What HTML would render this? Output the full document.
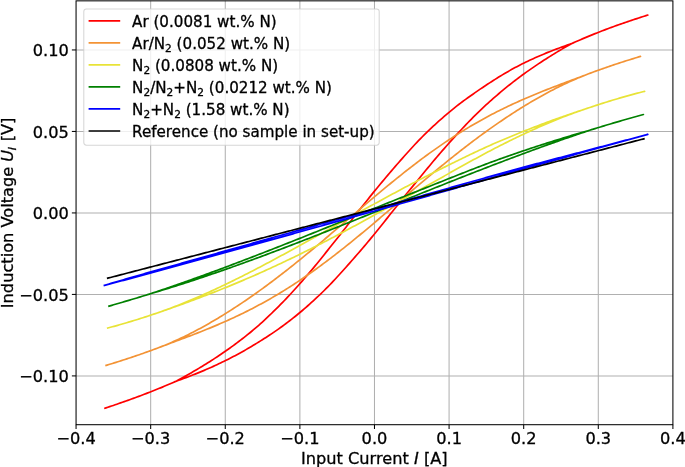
<!DOCTYPE html>
<html><head><meta charset="utf-8"><title>Induction Voltage vs Input Current</title>
<style>html,body{margin:0;padding:0;background:#fff}text{stroke:#000;stroke-width:0.3px}body{width:685px;height:467px;overflow:hidden}</style>
</head><body>
<svg width="685" height="467" viewBox="0 0 685 467" style="display:block;font-family:'DejaVu Sans', 'Liberation Sans', sans-serif;font-size:16.2px" fill="#000">
<rect width="685" height="467" fill="#fff"/>
<line x1="150.67" x2="150.67" y1="0.85" y2="424.7" stroke="#b0b0b0" stroke-width="1.04"/>
<line x1="225.27" x2="225.27" y1="0.85" y2="424.7" stroke="#b0b0b0" stroke-width="1.04"/>
<line x1="299.88" x2="299.88" y1="0.85" y2="424.7" stroke="#b0b0b0" stroke-width="1.04"/>
<line x1="374.48" x2="374.48" y1="0.85" y2="424.7" stroke="#b0b0b0" stroke-width="1.04"/>
<line x1="449.08" x2="449.08" y1="0.85" y2="424.7" stroke="#b0b0b0" stroke-width="1.04"/>
<line x1="523.69" x2="523.69" y1="0.85" y2="424.7" stroke="#b0b0b0" stroke-width="1.04"/>
<line x1="598.29" x2="598.29" y1="0.85" y2="424.7" stroke="#b0b0b0" stroke-width="1.04"/>
<line x1="76.06" x2="672.9" y1="375.91" y2="375.91" stroke="#b0b0b0" stroke-width="1.04"/>
<line x1="76.06" x2="672.9" y1="294.42" y2="294.42" stroke="#b0b0b0" stroke-width="1.04"/>
<line x1="76.06" x2="672.9" y1="212.93" y2="212.93" stroke="#b0b0b0" stroke-width="1.04"/>
<line x1="76.06" x2="672.9" y1="131.44" y2="131.44" stroke="#b0b0b0" stroke-width="1.04"/>
<line x1="76.06" x2="672.9" y1="49.95" y2="49.95" stroke="#b0b0b0" stroke-width="1.04"/>
<g fill="none" stroke-width="1.7" stroke-linecap="butt" stroke-linejoin="round">
<path d="M104.20 408.49 L106.02 407.88 L107.84 407.27 L109.65 406.66 L111.47 406.05 L113.29 405.43 L115.11 404.81 L116.93 404.18 L118.74 403.55 L120.56 402.92 L122.38 402.28 L124.20 401.64 L126.02 401.00 L127.83 400.35 L129.65 399.70 L131.47 399.04 L133.29 398.38 L135.11 397.71 L136.93 397.04 L138.74 396.36 L140.56 395.68 L142.38 395.00 L144.20 394.31 L146.02 393.61 L147.83 392.91 L149.65 392.20 L151.47 391.49 L153.29 390.77 L155.11 390.05 L156.92 389.32 L158.74 388.58 L160.56 387.84 L162.38 387.09 L164.20 386.33 L166.01 385.57 L167.83 384.80 L169.65 384.02 L171.47 383.24 L173.29 382.45 L175.10 381.65 L176.92 380.76 L178.74 379.78 L180.56 378.79 L182.38 377.79 L184.19 376.78 L186.01 375.77 L187.83 374.74 L189.65 373.71 L191.47 372.66 L193.28 371.61 L195.10 370.55 L196.92 369.47 L198.74 368.39 L200.56 367.30 L202.38 366.19 L204.19 365.08 L206.01 363.96 L207.83 362.82 L209.65 361.67 L211.47 360.52 L213.28 359.35 L215.10 358.16 L216.92 356.97 L218.74 355.76 L220.56 354.53 L222.37 353.29 L224.19 352.04 L226.01 350.77 L227.83 349.50 L229.65 348.20 L231.46 346.90 L233.28 345.58 L235.10 344.25 L236.92 342.91 L238.74 341.54 L240.55 340.16 L242.37 338.77 L244.19 337.35 L246.01 335.92 L247.83 334.46 L249.64 332.99 L251.46 331.49 L253.28 329.97 L255.10 328.43 L256.92 326.86 L258.74 325.27 L260.55 323.66 L262.37 322.02 L264.19 320.36 L266.01 318.67 L267.83 316.96 L269.64 315.24 L271.46 313.49 L273.28 311.72 L275.10 309.93 L276.92 308.12 L278.73 306.30 L280.55 304.46 L282.37 302.60 L284.19 300.72 L286.01 298.83 L287.82 296.92 L289.64 294.98 L291.46 293.02 L293.28 291.04 L295.10 289.04 L296.91 287.02 L298.73 284.98 L300.55 282.93 L302.37 280.85 L304.19 278.76 L306.00 276.66 L307.82 274.55 L309.64 272.42 L311.46 270.27 L313.28 268.10 L315.09 265.91 L316.91 263.69 L318.73 261.46 L320.55 259.21 L322.37 256.95 L324.19 254.67 L326.00 252.39 L327.82 250.11 L329.64 247.83 L331.46 245.55 L333.28 243.27 L335.09 241.01 L336.91 238.74 L338.73 236.45 L340.55 234.14 L342.37 231.83 L344.18 229.51 L346.00 227.17 L347.82 224.84 L349.64 222.50 L351.46 220.17 L353.27 217.84 L355.09 215.51 L356.91 213.20 L358.73 210.89 L360.55 208.58 L362.36 206.28 L364.18 203.99 L366.00 201.70 L367.82 199.42 L369.64 197.15 L371.45 194.89 L373.27 192.64 L375.09 190.41 L376.91 188.19 L378.73 185.98 L380.55 183.79 L382.36 181.60 L384.18 179.43 L386.00 177.26 L387.82 175.11 L389.64 172.97 L391.45 170.84 L393.27 168.73 L395.09 166.62 L396.91 164.53 L398.73 162.45 L400.54 160.38 L402.36 158.32 L404.18 156.28 L406.00 154.24 L407.82 152.22 L409.63 150.21 L411.45 148.20 L413.27 146.22 L415.09 144.27 L416.91 142.34 L418.72 140.45 L420.54 138.58 L422.36 136.73 L424.18 134.92 L426.00 133.13 L427.81 131.36 L429.63 129.62 L431.45 127.90 L433.27 126.20 L435.09 124.52 L436.91 122.87 L438.72 121.23 L440.54 119.62 L442.36 118.02 L444.18 116.44 L446.00 114.87 L447.81 113.32 L449.63 111.79 L451.45 110.28 L453.27 108.79 L455.09 107.34 L456.90 105.91 L458.72 104.50 L460.54 103.12 L462.36 101.76 L464.18 100.41 L465.99 99.09 L467.81 97.78 L469.63 96.48 L471.45 95.20 L473.27 93.93 L475.08 92.67 L476.90 91.41 L478.72 90.16 L480.54 88.92 L482.36 87.69 L484.17 86.47 L485.99 85.25 L487.81 84.05 L489.63 82.86 L491.45 81.68 L493.26 80.51 L495.08 79.36 L496.90 78.22 L498.72 77.09 L500.54 75.98 L502.36 74.88 L504.17 73.79 L505.99 72.72 L507.81 71.67 L509.63 70.63 L511.45 69.61 L513.26 68.60 L515.08 67.61 L516.90 66.64 L518.72 65.69 L520.54 64.76 L522.35 63.84 L524.17 62.94 L525.99 62.06 L527.81 61.19 L529.63 60.33 L531.44 59.49 L533.26 58.66 L535.08 57.84 L536.90 57.03 L538.72 56.23 L540.53 55.44 L542.35 54.67 L544.17 53.91 L545.99 53.16 L547.81 52.41 L549.62 51.68 L551.44 50.96 L553.26 50.25 L555.08 49.55 L556.90 48.86 L558.72 48.18 L560.53 47.51 L562.35 46.85 L564.17 46.20 L565.99 45.55 L567.81 44.91 L569.62 44.29 L571.44 43.67 L573.26 42.85 L575.08 42.04 L576.90 41.24 L578.71 40.45 L580.53 39.67 L582.35 38.89 L584.17 38.12 L585.99 37.36 L587.80 36.61 L589.62 35.86 L591.44 35.12 L593.26 34.38 L595.08 33.65 L596.89 32.93 L598.71 32.21 L600.53 31.50 L602.35 30.80 L604.17 30.11 L605.98 29.42 L607.80 28.74 L609.62 28.06 L611.44 27.39 L613.26 26.73 L615.07 26.07 L616.89 25.42 L618.71 24.77 L620.53 24.13 L622.35 23.50 L624.17 22.87 L625.98 22.24 L627.80 21.62 L629.62 21.01 L631.44 20.39 L633.26 19.79 L635.07 19.18 L636.89 18.58 L638.71 17.99 L640.53 17.40 L642.35 16.81 L644.16 16.22 L645.98 15.64 L647.80 15.06 L647.80 15.06 L645.98 15.64 L644.16 16.22 L642.35 16.81 L640.53 17.40 L638.71 17.99 L636.89 18.58 L635.07 19.18 L633.26 19.79 L631.44 20.39 L629.62 21.01 L627.80 21.62 L625.98 22.24 L624.17 22.87 L622.35 23.50 L620.53 24.13 L618.71 24.77 L616.89 25.42 L615.07 26.07 L613.26 26.73 L611.44 27.39 L609.62 28.06 L607.80 28.74 L605.98 29.42 L604.17 30.11 L602.35 30.80 L600.53 31.50 L598.71 32.21 L596.89 32.93 L595.08 33.65 L593.26 34.38 L591.44 35.12 L589.62 35.86 L587.80 36.61 L585.99 37.36 L584.17 38.12 L582.35 38.89 L580.53 39.67 L578.71 40.45 L576.90 41.24 L575.08 42.04 L573.26 42.85 L571.44 43.67 L569.62 44.69 L567.81 45.73 L565.99 46.77 L564.17 47.83 L562.35 48.89 L560.53 49.97 L558.72 51.05 L556.90 52.14 L555.08 53.24 L553.26 54.36 L551.44 55.48 L549.62 56.61 L547.81 57.76 L545.99 58.92 L544.17 60.08 L542.35 61.26 L540.53 62.45 L538.72 63.65 L536.90 64.87 L535.08 66.09 L533.26 67.33 L531.44 68.59 L529.63 69.85 L527.81 71.13 L525.99 72.42 L524.17 73.73 L522.35 75.05 L520.54 76.39 L518.72 77.74 L516.90 79.11 L515.08 80.50 L513.26 81.90 L511.45 83.32 L509.63 84.76 L507.81 86.21 L505.99 87.68 L504.17 89.16 L502.36 90.67 L500.54 92.19 L498.72 93.73 L496.90 95.28 L495.08 96.86 L493.26 98.45 L491.45 100.06 L489.63 101.68 L487.81 103.33 L485.99 104.99 L484.17 106.67 L482.36 108.37 L480.54 110.09 L478.72 111.83 L476.90 113.59 L475.08 115.38 L473.27 117.19 L471.45 119.03 L469.63 120.89 L467.81 122.77 L465.99 124.67 L464.18 126.59 L462.36 128.53 L460.54 130.48 L458.72 132.44 L456.90 134.42 L455.09 136.41 L453.27 138.41 L451.45 140.42 L449.63 142.44 L447.81 144.46 L446.00 146.51 L444.18 148.57 L442.36 150.66 L440.54 152.76 L438.72 154.88 L436.91 157.01 L435.09 159.16 L433.27 161.32 L431.45 163.50 L429.63 165.68 L427.81 167.88 L426.00 170.08 L424.18 172.29 L422.36 174.50 L420.54 176.72 L418.72 178.95 L416.91 181.17 L415.09 183.40 L413.27 185.62 L411.45 187.85 L409.63 190.08 L407.82 192.32 L406.00 194.57 L404.18 196.83 L402.36 199.09 L400.54 201.37 L398.73 203.65 L396.91 205.93 L395.09 208.21 L393.27 210.50 L391.45 212.79 L389.64 215.08 L387.82 217.36 L386.00 219.65 L384.18 221.92 L382.36 224.20 L380.55 226.46 L378.73 228.72 L376.91 230.97 L375.09 233.21 L373.27 235.44 L371.45 237.65 L369.64 239.84 L367.82 242.03 L366.00 244.19 L364.18 246.34 L362.36 248.48 L360.55 250.60 L358.73 252.70 L356.91 254.79 L355.09 256.88 L353.27 258.96 L351.46 261.03 L349.64 263.09 L347.82 265.15 L346.00 267.20 L344.18 269.24 L342.37 271.26 L340.55 273.28 L338.73 275.28 L336.91 277.26 L335.09 279.23 L333.28 281.18 L331.46 283.10 L329.64 284.99 L327.82 286.84 L326.00 288.68 L324.19 290.48 L322.37 292.26 L320.55 294.02 L318.73 295.75 L316.91 297.46 L315.09 299.16 L313.28 300.83 L311.46 302.49 L309.64 304.13 L307.82 305.75 L306.00 307.35 L304.19 308.92 L302.37 310.48 L300.55 312.01 L298.73 313.52 L296.91 315.01 L295.10 316.48 L293.28 317.93 L291.46 319.36 L289.64 320.77 L287.82 322.16 L286.01 323.54 L284.19 324.90 L282.37 326.24 L280.55 327.55 L278.73 328.85 L276.92 330.12 L275.10 331.38 L273.28 332.62 L271.46 333.84 L269.64 335.05 L267.83 336.24 L266.01 337.41 L264.19 338.58 L262.37 339.73 L260.55 340.87 L258.74 342.00 L256.92 343.12 L255.10 344.23 L253.28 345.33 L251.46 346.41 L249.64 347.49 L247.83 348.55 L246.01 349.61 L244.19 350.64 L242.37 351.67 L240.55 352.68 L238.74 353.68 L236.92 354.67 L235.10 355.65 L233.28 356.61 L231.46 357.56 L229.65 358.49 L227.83 359.42 L226.01 360.33 L224.19 361.22 L222.37 362.11 L220.56 362.98 L218.74 363.85 L216.92 364.70 L215.10 365.54 L213.28 366.37 L211.47 367.19 L209.65 368.00 L207.83 368.79 L206.01 369.58 L204.19 370.36 L202.38 371.12 L200.56 371.88 L198.74 372.63 L196.92 373.36 L195.10 374.09 L193.28 374.81 L191.47 375.52 L189.65 376.23 L187.83 376.92 L186.01 377.61 L184.19 378.29 L182.38 378.96 L180.56 379.62 L178.74 380.28 L176.92 380.92 L175.10 381.65 L173.29 382.45 L171.47 383.24 L169.65 384.02 L167.83 384.80 L166.01 385.57 L164.20 386.33 L162.38 387.09 L160.56 387.84 L158.74 388.58 L156.92 389.32 L155.11 390.05 L153.29 390.77 L151.47 391.49 L149.65 392.20 L147.83 392.91 L146.02 393.61 L144.20 394.31 L142.38 395.00 L140.56 395.68 L138.74 396.36 L136.93 397.04 L135.11 397.71 L133.29 398.38 L131.47 399.04 L129.65 399.70 L127.83 400.35 L126.02 401.00 L124.20 401.64 L122.38 402.28 L120.56 402.92 L118.74 403.55 L116.93 404.18 L115.11 404.81 L113.29 405.43 L111.47 406.05 L109.65 406.66 L107.84 407.27 L106.02 407.88 L104.20 408.49" stroke="#ff0000"/>
<path d="M105.30 365.62 L107.09 365.08 L108.88 364.54 L110.67 364.00 L112.46 363.45 L114.25 362.89 L116.04 362.33 L117.83 361.77 L119.62 361.20 L121.41 360.63 L123.20 360.06 L124.99 359.48 L126.78 358.90 L128.57 358.31 L130.36 357.71 L132.15 357.12 L133.94 356.51 L135.73 355.91 L137.52 355.29 L139.31 354.68 L141.10 354.06 L142.89 353.43 L144.68 352.79 L146.47 352.16 L148.26 351.51 L150.05 350.86 L151.84 350.21 L153.63 349.55 L155.42 348.88 L157.21 348.21 L159.00 347.54 L160.79 346.85 L162.58 346.15 L164.37 345.44 L166.16 344.71 L167.95 343.96 L169.74 343.20 L171.53 342.43 L173.32 341.64 L175.11 340.84 L176.90 340.03 L178.69 339.20 L180.48 338.37 L182.27 337.52 L184.06 336.65 L185.85 335.78 L187.64 334.89 L189.43 334.00 L191.22 333.09 L193.01 332.17 L194.80 331.24 L196.59 330.29 L198.38 329.34 L200.17 328.38 L201.96 327.40 L203.75 326.41 L205.54 325.42 L207.33 324.41 L209.12 323.39 L210.91 322.36 L212.70 321.32 L214.49 320.28 L216.28 319.22 L218.07 318.15 L219.86 317.07 L221.65 315.98 L223.44 314.88 L225.23 313.77 L227.02 312.65 L228.81 311.52 L230.60 310.38 L232.39 309.24 L234.18 308.08 L235.97 306.91 L237.76 305.74 L239.55 304.55 L241.34 303.36 L243.13 302.15 L244.92 300.94 L246.71 299.72 L248.50 298.49 L250.29 297.25 L252.08 296.00 L253.87 294.74 L255.66 293.47 L257.45 292.20 L259.24 290.92 L261.03 289.63 L262.82 288.33 L264.61 287.02 L266.40 285.70 L268.19 284.38 L269.98 283.05 L271.77 281.71 L273.56 280.36 L275.35 279.00 L277.14 277.64 L278.93 276.27 L280.72 274.89 L282.51 273.51 L284.30 272.12 L286.09 270.72 L287.88 269.32 L289.67 267.90 L291.46 266.49 L293.25 265.06 L295.04 263.63 L296.83 262.19 L298.62 260.75 L300.41 259.30 L302.20 257.85 L303.99 256.39 L305.78 254.92 L307.57 253.45 L309.36 251.98 L311.15 250.50 L312.94 249.02 L314.73 247.53 L316.52 246.04 L318.31 244.54 L320.10 243.04 L321.89 241.54 L323.68 240.03 L325.47 238.52 L327.26 237.00 L329.05 235.49 L330.84 233.97 L332.63 232.45 L334.42 230.93 L336.21 229.40 L338.00 227.87 L339.79 226.35 L341.58 224.82 L343.37 223.29 L345.16 221.76 L346.95 220.22 L348.74 218.69 L350.53 217.16 L352.32 215.63 L354.11 214.10 L355.90 212.57 L357.69 211.04 L359.48 209.51 L361.27 207.99 L363.06 206.46 L364.85 204.94 L366.64 203.42 L368.43 201.90 L370.22 200.39 L372.01 198.88 L373.79 197.37 L375.58 195.86 L377.37 194.36 L379.16 192.86 L380.95 191.37 L382.74 189.88 L384.53 188.40 L386.32 186.92 L388.11 185.44 L389.90 183.97 L391.69 182.51 L393.48 181.05 L395.27 179.60 L397.06 178.16 L398.85 176.72 L400.64 175.29 L402.43 173.86 L404.22 172.44 L406.01 171.03 L407.80 169.63 L409.59 168.23 L411.38 166.84 L413.17 165.47 L414.96 164.09 L416.75 162.73 L418.54 161.38 L420.33 160.03 L422.12 158.69 L423.91 157.36 L425.70 156.04 L427.49 154.73 L429.28 153.43 L431.07 152.14 L432.86 150.86 L434.65 149.59 L436.44 148.33 L438.23 147.08 L440.02 145.83 L441.81 144.60 L443.60 143.38 L445.39 142.17 L447.18 140.97 L448.97 139.78 L450.76 138.60 L452.55 137.43 L454.34 136.27 L456.13 135.12 L457.92 133.98 L459.71 132.85 L461.50 131.74 L463.29 130.63 L465.08 129.53 L466.87 128.45 L468.66 127.37 L470.45 126.31 L472.24 125.26 L474.03 124.21 L475.82 123.18 L477.61 122.16 L479.40 121.15 L481.19 120.15 L482.98 119.16 L484.77 118.18 L486.56 117.21 L488.35 116.25 L490.14 115.29 L491.93 114.35 L493.72 113.42 L495.51 112.50 L497.30 111.59 L499.09 110.69 L500.88 109.80 L502.67 108.91 L504.46 108.04 L506.25 107.17 L508.04 106.32 L509.83 105.47 L511.62 104.63 L513.41 103.80 L515.20 102.98 L516.99 102.17 L518.78 101.36 L520.57 100.56 L522.36 99.77 L524.15 98.99 L525.94 98.21 L527.73 97.44 L529.52 96.68 L531.31 95.93 L533.10 95.18 L534.89 94.43 L536.68 93.70 L538.47 92.97 L540.26 92.24 L542.05 91.52 L543.84 90.81 L545.63 90.10 L547.42 89.40 L549.21 88.70 L551.00 88.00 L552.79 87.31 L554.58 86.62 L556.37 85.94 L558.16 85.26 L559.95 84.58 L561.74 83.90 L563.53 83.23 L565.32 82.56 L567.11 81.89 L568.90 81.22 L570.69 80.55 L572.48 79.88 L574.27 79.21 L576.06 78.55 L577.85 77.88 L579.64 77.21 L581.43 76.54 L583.22 75.86 L585.01 75.18 L586.80 74.50 L588.59 73.82 L590.38 73.15 L592.17 72.48 L593.96 71.82 L595.75 71.17 L597.54 70.52 L599.33 69.87 L601.12 69.24 L602.91 68.60 L604.70 67.97 L606.49 67.35 L608.28 66.73 L610.07 66.12 L611.86 65.51 L613.65 64.91 L615.44 64.31 L617.23 63.72 L619.02 63.13 L620.81 62.54 L622.60 61.96 L624.39 61.39 L626.18 60.81 L627.97 60.25 L629.76 59.69 L631.55 59.13 L633.34 58.57 L635.13 58.02 L636.92 57.47 L638.71 56.93 L640.50 56.39 L640.50 56.39 L638.71 56.93 L636.92 57.47 L635.13 58.02 L633.34 58.57 L631.55 59.13 L629.76 59.69 L627.97 60.25 L626.18 60.81 L624.39 61.39 L622.60 61.96 L620.81 62.54 L619.02 63.13 L617.23 63.72 L615.44 64.31 L613.65 64.91 L611.86 65.51 L610.07 66.12 L608.28 66.73 L606.49 67.35 L604.70 67.97 L602.91 68.60 L601.12 69.24 L599.33 69.87 L597.54 70.52 L595.75 71.17 L593.96 71.82 L592.17 72.48 L590.38 73.15 L588.59 73.82 L586.80 74.50 L585.01 75.19 L583.22 75.89 L581.43 76.61 L579.64 77.34 L577.85 78.09 L576.06 78.85 L574.27 79.62 L572.48 80.41 L570.69 81.21 L568.90 82.03 L567.11 82.86 L565.32 83.70 L563.53 84.55 L561.74 85.41 L559.95 86.29 L558.16 87.17 L556.37 88.07 L554.58 88.98 L552.79 89.91 L551.00 90.84 L549.21 91.78 L547.42 92.74 L545.63 93.71 L543.84 94.68 L542.05 95.67 L540.26 96.67 L538.47 97.68 L536.68 98.70 L534.89 99.73 L533.10 100.77 L531.31 101.82 L529.52 102.88 L527.73 103.95 L525.94 105.03 L524.15 106.12 L522.36 107.22 L520.57 108.33 L518.78 109.45 L516.99 110.58 L515.20 111.72 L513.41 112.87 L511.62 114.03 L509.83 115.20 L508.04 116.38 L506.25 117.56 L504.46 118.76 L502.67 119.96 L500.88 121.18 L499.09 122.40 L497.30 123.63 L495.51 124.88 L493.72 126.13 L491.93 127.38 L490.14 128.65 L488.35 129.93 L486.56 131.21 L484.77 132.50 L482.98 133.80 L481.19 135.11 L479.40 136.43 L477.61 137.76 L475.82 139.09 L474.03 140.43 L472.24 141.78 L470.45 143.14 L468.66 144.50 L466.87 145.87 L465.08 147.25 L463.29 148.63 L461.50 150.03 L459.71 151.43 L457.92 152.83 L456.13 154.24 L454.34 155.66 L452.55 157.09 L450.76 158.52 L448.97 159.96 L447.18 161.40 L445.39 162.85 L443.60 164.31 L441.81 165.77 L440.02 167.23 L438.23 168.70 L436.44 170.18 L434.65 171.66 L432.86 173.14 L431.07 174.63 L429.28 176.12 L427.49 177.62 L425.70 179.12 L423.91 180.63 L422.12 182.13 L420.33 183.64 L418.54 185.16 L416.75 186.67 L414.96 188.19 L413.17 189.71 L411.38 191.24 L409.59 192.76 L407.80 194.29 L406.01 195.82 L404.22 197.35 L402.43 198.88 L400.64 200.41 L398.85 201.94 L397.06 203.47 L395.27 205.00 L393.48 206.53 L391.69 208.06 L389.90 209.59 L388.11 211.12 L386.32 212.65 L384.53 214.18 L382.74 215.70 L380.95 217.22 L379.16 218.74 L377.37 220.26 L375.58 221.77 L373.79 223.29 L372.01 224.79 L370.22 226.30 L368.43 227.80 L366.64 229.30 L364.85 230.79 L363.06 232.28 L361.27 233.76 L359.48 235.24 L357.69 236.71 L355.90 238.18 L354.11 239.64 L352.32 241.10 L350.53 242.55 L348.74 243.99 L346.95 245.43 L345.16 246.86 L343.37 248.29 L341.58 249.70 L339.79 251.11 L338.00 252.52 L336.21 253.91 L334.42 255.30 L332.63 256.68 L330.84 258.05 L329.05 259.41 L327.26 260.76 L325.47 262.11 L323.68 263.44 L321.89 264.77 L320.10 266.09 L318.31 267.40 L316.52 268.70 L314.73 269.98 L312.94 271.26 L311.15 272.53 L309.36 273.80 L307.57 275.05 L305.78 276.29 L303.99 277.52 L302.20 278.74 L300.41 279.95 L298.62 281.15 L296.83 282.34 L295.04 283.51 L293.25 284.68 L291.46 285.84 L289.67 286.99 L287.88 288.12 L286.09 289.25 L284.30 290.36 L282.51 291.47 L280.72 292.56 L278.93 293.65 L277.14 294.72 L275.35 295.78 L273.56 296.83 L271.77 297.88 L269.98 298.91 L268.19 299.93 L266.40 300.94 L264.61 301.94 L262.82 302.93 L261.03 303.91 L259.24 304.87 L257.45 305.83 L255.66 306.78 L253.87 307.72 L252.08 308.65 L250.29 309.57 L248.50 310.48 L246.71 311.38 L244.92 312.27 L243.13 313.15 L241.34 314.03 L239.55 314.89 L237.76 315.74 L235.97 316.59 L234.18 317.43 L232.39 318.26 L230.60 319.08 L228.81 319.89 L227.02 320.70 L225.23 321.49 L223.44 322.28 L221.65 323.06 L219.86 323.84 L218.07 324.61 L216.28 325.37 L214.49 326.12 L212.70 326.87 L210.91 327.61 L209.12 328.35 L207.33 329.08 L205.54 329.80 L203.75 330.52 L201.96 331.23 L200.17 331.94 L198.38 332.64 L196.59 333.34 L194.80 334.04 L193.01 334.73 L191.22 335.42 L189.43 336.10 L187.64 336.78 L185.85 337.46 L184.06 338.14 L182.27 338.81 L180.48 339.48 L178.69 340.15 L176.90 340.82 L175.11 341.49 L173.32 342.15 L171.53 342.82 L169.74 343.49 L167.95 344.16 L166.16 344.83 L164.37 345.50 L162.58 346.17 L160.79 346.85 L159.00 347.54 L157.21 348.21 L155.42 348.88 L153.63 349.55 L151.84 350.21 L150.05 350.86 L148.26 351.51 L146.47 352.16 L144.68 352.79 L142.89 353.43 L141.10 354.06 L139.31 354.68 L137.52 355.29 L135.73 355.91 L133.94 356.51 L132.15 357.12 L130.36 357.71 L128.57 358.31 L126.78 358.90 L124.99 359.48 L123.20 360.06 L121.41 360.63 L119.62 361.20 L117.83 361.77 L116.04 362.33 L114.25 362.89 L112.46 363.45 L110.67 364.00 L108.88 364.54 L107.09 365.08 L105.30 365.62" stroke="#f39335"/>
<path d="M106.90 328.25 L108.70 327.77 L110.50 327.29 L112.29 326.80 L114.09 326.31 L115.89 325.81 L117.69 325.31 L119.49 324.80 L121.29 324.29 L123.08 323.77 L124.88 323.25 L126.68 322.72 L128.48 322.19 L130.28 321.65 L132.08 321.10 L133.87 320.55 L135.67 320.00 L137.47 319.44 L139.27 318.88 L141.07 318.31 L142.87 317.73 L144.66 317.15 L146.46 316.57 L148.26 315.98 L150.06 315.39 L151.86 314.79 L153.66 314.18 L155.45 313.57 L157.25 312.96 L159.05 312.33 L160.85 311.70 L162.65 311.06 L164.45 310.41 L166.24 309.76 L168.04 309.10 L169.84 308.43 L171.64 307.75 L173.44 307.07 L175.24 306.38 L177.03 305.68 L178.83 304.97 L180.63 304.26 L182.43 303.54 L184.23 302.81 L186.03 302.08 L187.82 301.34 L189.62 300.59 L191.42 299.83 L193.22 299.07 L195.02 298.31 L196.82 297.53 L198.61 296.76 L200.41 295.97 L202.21 295.18 L204.01 294.38 L205.81 293.58 L207.61 292.77 L209.40 291.95 L211.20 291.13 L213.00 290.31 L214.80 289.47 L216.60 288.64 L218.40 287.79 L220.19 286.95 L221.99 286.09 L223.79 285.24 L225.59 284.37 L227.39 283.51 L229.19 282.63 L230.98 281.76 L232.78 280.87 L234.58 279.99 L236.38 279.10 L238.18 278.20 L239.98 277.30 L241.77 276.40 L243.57 275.49 L245.37 274.58 L247.17 273.66 L248.97 272.74 L250.77 271.81 L252.56 270.89 L254.36 269.96 L256.16 269.02 L257.96 268.08 L259.76 267.14 L261.56 266.20 L263.35 265.25 L265.15 264.30 L266.95 263.34 L268.75 262.38 L270.55 261.42 L272.35 260.46 L274.14 259.50 L275.94 258.53 L277.74 257.56 L279.54 256.58 L281.34 255.61 L283.14 254.63 L284.93 253.65 L286.73 252.67 L288.53 251.68 L290.33 250.70 L292.13 249.71 L293.93 248.72 L295.72 247.73 L297.52 246.74 L299.32 245.74 L301.12 244.74 L302.92 243.75 L304.72 242.75 L306.51 241.75 L308.31 240.75 L310.11 239.75 L311.91 238.74 L313.71 237.74 L315.51 236.73 L317.30 235.73 L319.10 234.72 L320.90 233.72 L322.70 232.71 L324.50 231.70 L326.30 230.69 L328.09 229.68 L329.89 228.68 L331.69 227.67 L333.49 226.66 L335.29 225.65 L337.09 224.64 L338.88 223.64 L340.68 222.63 L342.48 221.62 L344.28 220.61 L346.08 219.61 L347.88 218.60 L349.67 217.60 L351.47 216.59 L353.27 215.59 L355.07 214.58 L356.87 213.58 L358.67 212.58 L360.46 211.58 L362.26 210.58 L364.06 209.59 L365.86 208.59 L367.66 207.59 L369.46 206.60 L371.25 205.61 L373.05 204.62 L374.85 203.63 L376.65 202.64 L378.45 201.66 L380.25 200.67 L382.04 199.69 L383.84 198.71 L385.64 197.73 L387.44 196.76 L389.24 195.78 L391.04 194.81 L392.83 193.84 L394.63 192.88 L396.43 191.91 L398.23 190.95 L400.03 189.99 L401.83 189.03 L403.62 188.08 L405.42 187.12 L407.22 186.17 L409.02 185.23 L410.82 184.28 L412.62 183.34 L414.41 182.40 L416.21 181.46 L418.01 180.53 L419.81 179.60 L421.61 178.67 L423.41 177.75 L425.20 176.83 L427.00 175.91 L428.80 175.00 L430.60 174.09 L432.40 173.18 L434.20 172.27 L435.99 171.37 L437.79 170.47 L439.59 169.57 L441.39 168.67 L443.19 167.77 L444.99 166.87 L446.78 165.98 L448.58 165.08 L450.38 164.19 L452.18 163.30 L453.98 162.42 L455.78 161.53 L457.57 160.65 L459.37 159.77 L461.17 158.90 L462.97 158.02 L464.77 157.16 L466.57 156.29 L468.36 155.43 L470.16 154.57 L471.96 153.72 L473.76 152.87 L475.56 152.02 L477.36 151.18 L479.15 150.35 L480.95 149.51 L482.75 148.69 L484.55 147.86 L486.35 147.05 L488.15 146.24 L489.94 145.43 L491.74 144.63 L493.54 143.83 L495.34 143.04 L497.14 142.26 L498.94 141.48 L500.73 140.71 L502.53 139.95 L504.33 139.19 L506.13 138.43 L507.93 137.68 L509.73 136.93 L511.52 136.19 L513.32 135.45 L515.12 134.71 L516.92 133.98 L518.72 133.25 L520.52 132.53 L522.31 131.81 L524.11 131.09 L525.91 130.38 L527.71 129.67 L529.51 128.96 L531.31 128.26 L533.10 127.57 L534.90 126.87 L536.70 126.18 L538.50 125.50 L540.30 124.81 L542.10 124.13 L543.89 123.46 L545.69 122.78 L547.49 122.11 L549.29 121.45 L551.09 120.79 L552.89 120.14 L554.68 119.49 L556.48 118.85 L558.28 118.21 L560.08 117.58 L561.88 116.95 L563.68 116.32 L565.47 115.70 L567.27 115.08 L569.07 114.46 L570.87 113.85 L572.67 113.24 L574.47 112.63 L576.26 112.02 L578.06 111.41 L579.86 110.81 L581.66 110.21 L583.46 109.61 L585.26 109.01 L587.05 108.41 L588.85 107.81 L590.65 107.21 L592.45 106.62 L594.25 106.02 L596.05 105.43 L597.84 104.85 L599.64 104.26 L601.44 103.68 L603.24 103.11 L605.04 102.54 L606.84 101.98 L608.63 101.42 L610.43 100.86 L612.23 100.31 L614.03 99.77 L615.83 99.23 L617.63 98.70 L619.42 98.17 L621.22 97.65 L623.02 97.13 L624.82 96.62 L626.62 96.11 L628.42 95.61 L630.21 95.11 L632.01 94.62 L633.81 94.13 L635.61 93.65 L637.41 93.17 L639.21 92.70 L641.00 92.23 L642.80 91.77 L644.60 91.31 L644.60 91.31 L642.80 91.77 L641.00 92.23 L639.21 92.70 L637.41 93.17 L635.61 93.65 L633.81 94.13 L632.01 94.62 L630.21 95.11 L628.42 95.61 L626.62 96.11 L624.82 96.62 L623.02 97.13 L621.22 97.65 L619.42 98.17 L617.63 98.70 L615.83 99.23 L614.03 99.77 L612.23 100.31 L610.43 100.86 L608.63 101.42 L606.84 101.98 L605.04 102.54 L603.24 103.11 L601.44 103.68 L599.64 104.26 L597.84 104.85 L596.05 105.43 L594.25 106.02 L592.45 106.62 L590.65 107.21 L588.85 107.81 L587.05 108.41 L585.26 109.02 L583.46 109.63 L581.66 110.25 L579.86 110.87 L578.06 111.51 L576.26 112.15 L574.47 112.79 L572.67 113.45 L570.87 114.11 L569.07 114.77 L567.27 115.45 L565.47 116.13 L563.68 116.82 L561.88 117.52 L560.08 118.22 L558.28 118.94 L556.48 119.66 L554.68 120.39 L552.89 121.12 L551.09 121.87 L549.29 122.62 L547.49 123.39 L545.69 124.16 L543.89 124.94 L542.10 125.72 L540.30 126.52 L538.50 127.31 L536.70 128.12 L534.90 128.93 L533.10 129.74 L531.31 130.56 L529.51 131.39 L527.71 132.22 L525.91 133.06 L524.11 133.90 L522.31 134.75 L520.52 135.60 L518.72 136.46 L516.92 137.33 L515.12 138.20 L513.32 139.07 L511.52 139.95 L509.73 140.84 L507.93 141.73 L506.13 142.62 L504.33 143.52 L502.53 144.42 L500.73 145.33 L498.94 146.24 L497.14 147.17 L495.34 148.09 L493.54 149.02 L491.74 149.96 L489.94 150.91 L488.15 151.86 L486.35 152.81 L484.55 153.77 L482.75 154.73 L480.95 155.70 L479.15 156.67 L477.36 157.65 L475.56 158.63 L473.76 159.61 L471.96 160.60 L470.16 161.59 L468.36 162.58 L466.57 163.58 L464.77 164.57 L462.97 165.57 L461.17 166.57 L459.37 167.58 L457.57 168.58 L455.78 169.59 L453.98 170.59 L452.18 171.60 L450.38 172.61 L448.58 173.62 L446.78 174.63 L444.99 175.63 L443.19 176.64 L441.39 177.65 L439.59 178.66 L437.79 179.66 L435.99 180.67 L434.20 181.67 L432.40 182.68 L430.60 183.68 L428.80 184.68 L427.00 185.69 L425.20 186.70 L423.41 187.70 L421.61 188.71 L419.81 189.72 L418.01 190.72 L416.21 191.73 L414.41 192.74 L412.62 193.75 L410.82 194.76 L409.02 195.77 L407.22 196.77 L405.42 197.78 L403.62 198.79 L401.83 199.80 L400.03 200.80 L398.23 201.81 L396.43 202.82 L394.63 203.82 L392.83 204.83 L391.04 205.83 L389.24 206.83 L387.44 207.84 L385.64 208.84 L383.84 209.84 L382.04 210.83 L380.25 211.83 L378.45 212.83 L376.65 213.82 L374.85 214.82 L373.05 215.81 L371.25 216.80 L369.46 217.79 L367.66 218.78 L365.86 219.76 L364.06 220.74 L362.26 221.73 L360.46 222.71 L358.67 223.68 L356.87 224.66 L355.07 225.63 L353.27 226.61 L351.47 227.58 L349.67 228.54 L347.88 229.51 L346.08 230.47 L344.28 231.43 L342.48 232.39 L340.68 233.34 L338.88 234.29 L337.09 235.24 L335.29 236.19 L333.49 237.14 L331.69 238.08 L329.89 239.02 L328.09 239.95 L326.30 240.89 L324.50 241.82 L322.70 242.74 L320.90 243.67 L319.10 244.59 L317.30 245.51 L315.51 246.42 L313.71 247.33 L311.91 248.24 L310.11 249.15 L308.31 250.05 L306.51 250.95 L304.72 251.84 L302.92 252.73 L301.12 253.62 L299.32 254.51 L297.52 255.39 L295.72 256.26 L293.93 257.14 L292.13 258.01 L290.33 258.88 L288.53 259.74 L286.73 260.60 L284.93 261.45 L283.14 262.31 L281.34 263.16 L279.54 264.00 L277.74 264.84 L275.94 265.68 L274.14 266.51 L272.35 267.34 L270.55 268.17 L268.75 268.99 L266.95 269.81 L265.15 270.62 L263.35 271.44 L261.56 272.24 L259.76 273.05 L257.96 273.85 L256.16 274.64 L254.36 275.43 L252.56 276.22 L250.77 277.01 L248.97 277.79 L247.17 278.56 L245.37 279.33 L243.57 280.10 L241.77 280.87 L239.98 281.63 L238.18 282.39 L236.38 283.14 L234.58 283.89 L232.78 284.64 L230.98 285.38 L229.19 286.12 L227.39 286.85 L225.59 287.59 L223.79 288.31 L221.99 289.04 L220.19 289.76 L218.40 290.47 L216.60 291.19 L214.80 291.90 L213.00 292.60 L211.20 293.31 L209.40 294.01 L207.61 294.70 L205.81 295.39 L204.01 296.08 L202.21 296.77 L200.41 297.45 L198.61 298.13 L196.82 298.81 L195.02 299.48 L193.22 300.15 L191.42 300.82 L189.62 301.48 L187.82 302.14 L186.03 302.80 L184.23 303.45 L182.43 304.11 L180.63 304.76 L178.83 305.40 L177.03 306.05 L175.24 306.69 L173.44 307.32 L171.64 307.96 L169.84 308.59 L168.04 309.22 L166.24 309.85 L164.45 310.48 L162.65 311.10 L160.85 311.72 L159.05 312.34 L157.25 312.96 L155.45 313.57 L153.66 314.18 L151.86 314.79 L150.06 315.39 L148.26 315.98 L146.46 316.57 L144.66 317.15 L142.87 317.73 L141.07 318.31 L139.27 318.88 L137.47 319.44 L135.67 320.00 L133.87 320.55 L132.08 321.10 L130.28 321.65 L128.48 322.19 L126.68 322.72 L124.88 323.25 L123.08 323.77 L121.29 324.29 L119.49 324.80 L117.69 325.31 L115.89 325.81 L114.09 326.31 L112.29 326.80 L110.50 327.29 L108.70 327.77 L106.90 328.25" stroke="#e8e337"/>
<path d="M108.20 306.32 L109.99 305.81 L111.78 305.31 L113.57 304.80 L115.36 304.28 L117.15 303.77 L118.94 303.25 L120.73 302.73 L122.52 302.21 L124.31 301.69 L126.10 301.16 L127.89 300.63 L129.68 300.10 L131.47 299.56 L133.26 299.02 L135.05 298.48 L136.84 297.94 L138.63 297.40 L140.42 296.85 L142.21 296.30 L144.00 295.75 L145.79 295.19 L147.58 294.64 L149.37 294.08 L151.16 293.50 L152.95 292.90 L154.74 292.30 L156.53 291.70 L158.32 291.10 L160.11 290.50 L161.90 289.89 L163.69 289.29 L165.48 288.68 L167.27 288.06 L169.06 287.45 L170.85 286.83 L172.64 286.22 L174.43 285.60 L176.22 284.98 L178.01 284.35 L179.80 283.73 L181.59 283.10 L183.38 282.47 L185.17 281.84 L186.96 281.21 L188.75 280.57 L190.54 279.94 L192.33 279.30 L194.12 278.66 L195.91 278.02 L197.70 277.37 L199.49 276.73 L201.28 276.08 L203.07 275.43 L204.86 274.78 L206.65 274.13 L208.44 273.48 L210.23 272.82 L212.02 272.16 L213.81 271.51 L215.60 270.85 L217.39 270.18 L219.18 269.52 L220.97 268.86 L222.76 268.19 L224.55 267.52 L226.34 266.85 L228.13 266.18 L229.92 265.51 L231.71 264.84 L233.50 264.16 L235.29 263.49 L237.08 262.81 L238.87 262.13 L240.66 261.45 L242.45 260.77 L244.24 260.08 L246.03 259.40 L247.82 258.72 L249.61 258.03 L251.40 257.34 L253.19 256.65 L254.98 255.96 L256.77 255.27 L258.56 254.58 L260.35 253.88 L262.14 253.19 L263.93 252.49 L265.72 251.80 L267.51 251.10 L269.30 250.40 L271.09 249.70 L272.88 249.00 L274.67 248.30 L276.46 247.59 L278.25 246.89 L280.04 246.19 L281.83 245.48 L283.62 244.77 L285.41 244.07 L287.20 243.36 L288.99 242.65 L290.78 241.94 L292.57 241.23 L294.36 240.52 L296.15 239.81 L297.94 239.10 L299.73 238.38 L301.52 237.67 L303.31 236.95 L305.10 236.24 L306.89 235.52 L308.68 234.81 L310.47 234.09 L312.26 233.37 L314.05 232.66 L315.84 231.94 L317.63 231.22 L319.42 230.50 L321.21 229.78 L323.00 229.06 L324.79 228.34 L326.58 227.62 L328.37 226.90 L330.16 226.18 L331.95 225.46 L333.74 224.74 L335.53 224.02 L337.32 223.30 L339.11 222.57 L340.90 221.85 L342.69 221.13 L344.48 220.41 L346.27 219.69 L348.06 218.96 L349.85 218.24 L351.64 217.52 L353.43 216.80 L355.22 216.07 L357.01 215.35 L358.80 214.63 L360.59 213.91 L362.38 213.18 L364.17 212.46 L365.96 211.74 L367.75 211.02 L369.54 210.30 L371.33 209.58 L373.12 208.86 L374.91 208.14 L376.69 207.42 L378.48 206.70 L380.27 205.98 L382.06 205.26 L383.85 204.54 L385.64 203.82 L387.43 203.10 L389.22 202.39 L391.01 201.67 L392.80 200.95 L394.59 200.24 L396.38 199.52 L398.17 198.81 L399.96 198.09 L401.75 197.38 L403.54 196.67 L405.33 195.96 L407.12 195.25 L408.91 194.54 L410.70 193.83 L412.49 193.12 L414.28 192.41 L416.07 191.69 L417.86 190.98 L419.65 190.27 L421.44 189.55 L423.23 188.84 L425.02 188.12 L426.81 187.41 L428.60 186.69 L430.39 185.97 L432.18 185.26 L433.97 184.54 L435.76 183.82 L437.55 183.10 L439.34 182.39 L441.13 181.67 L442.92 180.95 L444.71 180.24 L446.50 179.52 L448.29 178.81 L450.08 178.09 L451.87 177.38 L453.66 176.67 L455.45 175.96 L457.24 175.25 L459.03 174.54 L460.82 173.84 L462.61 173.13 L464.40 172.43 L466.19 171.73 L467.98 171.03 L469.77 170.33 L471.56 169.63 L473.35 168.94 L475.14 168.25 L476.93 167.56 L478.72 166.88 L480.51 166.19 L482.30 165.51 L484.09 164.84 L485.88 164.16 L487.67 163.49 L489.46 162.82 L491.25 162.16 L493.04 161.50 L494.83 160.84 L496.62 160.18 L498.41 159.53 L500.20 158.89 L501.99 158.24 L503.78 157.60 L505.57 156.97 L507.36 156.34 L509.15 155.71 L510.94 155.08 L512.73 154.46 L514.52 153.84 L516.31 153.22 L518.10 152.61 L519.89 152.00 L521.68 151.39 L523.47 150.79 L525.26 150.19 L527.05 149.59 L528.84 148.99 L530.63 148.40 L532.42 147.81 L534.21 147.22 L536.00 146.64 L537.79 146.06 L539.58 145.48 L541.37 144.90 L543.16 144.33 L544.95 143.75 L546.74 143.18 L548.53 142.62 L550.32 142.05 L552.11 141.49 L553.90 140.93 L555.69 140.37 L557.48 139.81 L559.27 139.26 L561.06 138.70 L562.85 138.15 L564.64 137.61 L566.43 137.06 L568.22 136.51 L570.01 135.97 L571.80 135.43 L573.59 134.90 L575.38 134.37 L577.17 133.84 L578.96 133.32 L580.75 132.80 L582.54 132.28 L584.33 131.76 L586.12 131.24 L587.91 130.73 L589.70 130.21 L591.49 129.69 L593.28 129.14 L595.07 128.59 L596.86 128.05 L598.65 127.50 L600.44 126.95 L602.23 126.40 L604.02 125.85 L605.81 125.31 L607.60 124.77 L609.39 124.23 L611.18 123.70 L612.97 123.17 L614.76 122.64 L616.55 122.11 L618.34 121.58 L620.13 121.06 L621.92 120.54 L623.71 120.03 L625.50 119.51 L627.29 119.00 L629.08 118.49 L630.87 117.98 L632.66 117.48 L634.45 116.98 L636.24 116.48 L638.03 115.98 L639.82 115.49 L641.61 115.00 L643.40 114.51 L643.40 114.51 L641.61 115.00 L639.82 115.49 L638.03 115.98 L636.24 116.48 L634.45 116.98 L632.66 117.48 L630.87 117.98 L629.08 118.49 L627.29 119.00 L625.50 119.51 L623.71 120.03 L621.92 120.54 L620.13 121.06 L618.34 121.58 L616.55 122.11 L614.76 122.64 L612.97 123.17 L611.18 123.70 L609.39 124.23 L607.60 124.77 L605.81 125.31 L604.02 125.85 L602.23 126.40 L600.44 126.95 L598.65 127.50 L596.86 128.05 L595.07 128.60 L593.28 129.16 L591.49 129.72 L589.70 130.30 L587.91 130.90 L586.12 131.49 L584.33 132.09 L582.54 132.70 L580.75 133.30 L578.96 133.90 L577.17 134.51 L575.38 135.12 L573.59 135.73 L571.80 136.35 L570.01 136.96 L568.22 137.58 L566.43 138.20 L564.64 138.82 L562.85 139.45 L561.06 140.07 L559.27 140.70 L557.48 141.33 L555.69 141.96 L553.90 142.59 L552.11 143.23 L550.32 143.86 L548.53 144.50 L546.74 145.14 L544.95 145.78 L543.16 146.43 L541.37 147.07 L539.58 147.72 L537.79 148.37 L536.00 149.02 L534.21 149.67 L532.42 150.32 L530.63 150.98 L528.84 151.63 L527.05 152.29 L525.26 152.95 L523.47 153.61 L521.68 154.28 L519.89 154.94 L518.10 155.61 L516.31 156.28 L514.52 156.95 L512.73 157.62 L510.94 158.29 L509.15 158.96 L507.36 159.64 L505.57 160.31 L503.78 160.99 L501.99 161.67 L500.20 162.35 L498.41 163.03 L496.62 163.71 L494.83 164.40 L493.04 165.08 L491.25 165.77 L489.46 166.46 L487.67 167.15 L485.88 167.84 L484.09 168.53 L482.30 169.22 L480.51 169.92 L478.72 170.61 L476.93 171.31 L475.14 172.00 L473.35 172.70 L471.56 173.40 L469.77 174.10 L467.98 174.80 L466.19 175.50 L464.40 176.21 L462.61 176.91 L460.82 177.61 L459.03 178.32 L457.24 179.03 L455.45 179.73 L453.66 180.44 L451.87 181.15 L450.08 181.86 L448.29 182.57 L446.50 183.28 L444.71 183.99 L442.92 184.70 L441.13 185.42 L439.34 186.13 L437.55 186.85 L435.76 187.56 L433.97 188.28 L432.18 188.99 L430.39 189.71 L428.60 190.43 L426.81 191.14 L425.02 191.86 L423.23 192.58 L421.44 193.30 L419.65 194.02 L417.86 194.74 L416.07 195.46 L414.28 196.18 L412.49 196.90 L410.70 197.62 L408.91 198.34 L407.12 199.06 L405.33 199.78 L403.54 200.50 L401.75 201.23 L399.96 201.95 L398.17 202.67 L396.38 203.39 L394.59 204.11 L392.80 204.84 L391.01 205.56 L389.22 206.28 L387.43 207.00 L385.64 207.73 L383.85 208.45 L382.06 209.17 L380.27 209.89 L378.48 210.62 L376.69 211.34 L374.91 212.06 L373.12 212.78 L371.33 213.50 L369.54 214.22 L367.75 214.94 L365.96 215.66 L364.17 216.38 L362.38 217.10 L360.59 217.82 L358.80 218.54 L357.01 219.26 L355.22 219.98 L353.43 220.70 L351.64 221.41 L349.85 222.13 L348.06 222.85 L346.27 223.56 L344.48 224.28 L342.69 224.99 L340.90 225.71 L339.11 226.42 L337.32 227.13 L335.53 227.84 L333.74 228.55 L331.95 229.26 L330.16 229.97 L328.37 230.68 L326.58 231.39 L324.79 232.10 L323.00 232.81 L321.21 233.51 L319.42 234.22 L317.63 234.92 L315.84 235.62 L314.05 236.32 L312.26 237.03 L310.47 237.73 L308.68 238.42 L306.89 239.12 L305.10 239.82 L303.31 240.51 L301.52 241.21 L299.73 241.90 L297.94 242.59 L296.15 243.29 L294.36 243.98 L292.57 244.66 L290.78 245.35 L288.99 246.04 L287.20 246.72 L285.41 247.41 L283.62 248.09 L281.83 248.77 L280.04 249.45 L278.25 250.13 L276.46 250.80 L274.67 251.48 L272.88 252.15 L271.09 252.83 L269.30 253.50 L267.51 254.17 L265.72 254.83 L263.93 255.50 L262.14 256.17 L260.35 256.83 L258.56 257.49 L256.77 258.15 L254.98 258.81 L253.19 259.47 L251.40 260.12 L249.61 260.77 L247.82 261.42 L246.03 262.07 L244.24 262.72 L242.45 263.37 L240.66 264.01 L238.87 264.66 L237.08 265.30 L235.29 265.93 L233.50 266.57 L231.71 267.21 L229.92 267.84 L228.13 268.47 L226.34 269.10 L224.55 269.73 L222.76 270.35 L220.97 270.98 L219.18 271.60 L217.39 272.22 L215.60 272.83 L213.81 273.45 L212.02 274.06 L210.23 274.67 L208.44 275.28 L206.65 275.89 L204.86 276.49 L203.07 277.09 L201.28 277.69 L199.49 278.29 L197.70 278.89 L195.91 279.48 L194.12 280.07 L192.33 280.66 L190.54 281.25 L188.75 281.83 L186.96 282.41 L185.17 282.99 L183.38 283.57 L181.59 284.14 L179.80 284.72 L178.01 285.29 L176.22 285.85 L174.43 286.42 L172.64 286.98 L170.85 287.54 L169.06 288.10 L167.27 288.65 L165.48 289.21 L163.69 289.76 L161.90 290.31 L160.11 290.85 L158.32 291.39 L156.53 291.93 L154.74 292.47 L152.95 293.01 L151.16 293.54 L149.37 294.08 L147.58 294.64 L145.79 295.19 L144.00 295.75 L142.21 296.30 L140.42 296.85 L138.63 297.40 L136.84 297.94 L135.05 298.48 L133.26 299.02 L131.47 299.56 L129.68 300.10 L127.89 300.63 L126.10 301.16 L124.31 301.69 L122.52 302.21 L120.73 302.73 L118.94 303.25 L117.15 303.77 L115.36 304.28 L113.57 304.80 L111.78 305.31 L109.99 305.81 L108.20 306.32" stroke="#008000"/>
<path d="M103.60 285.56 L105.42 285.03 L107.24 284.50 L109.06 283.96 L110.88 283.43 L112.70 282.90 L114.52 282.37 L116.34 281.84 L118.16 281.31 L119.98 280.78 L121.80 280.25 L123.62 279.72 L125.44 279.19 L127.26 278.67 L129.08 278.14 L130.90 277.61 L132.72 277.09 L134.54 276.57 L136.36 276.04 L138.18 275.52 L140.00 275.00 L141.82 274.48 L143.64 273.96 L145.46 273.44 L147.28 272.92 L149.10 272.41 L150.92 271.89 L152.74 271.38 L154.56 270.87 L156.38 270.35 L158.20 269.84 L160.02 269.33 L161.84 268.81 L163.66 268.30 L165.48 267.79 L167.30 267.28 L169.12 266.77 L170.94 266.26 L172.76 265.74 L174.58 265.23 L176.40 264.72 L178.22 264.21 L180.04 263.70 L181.86 263.19 L183.68 262.68 L185.50 262.17 L187.32 261.66 L189.14 261.15 L190.96 260.65 L192.78 260.14 L194.60 259.63 L196.42 259.11 L198.24 258.60 L200.06 258.09 L201.88 257.57 L203.70 257.06 L205.52 256.54 L207.34 256.03 L209.16 255.51 L210.98 255.00 L212.80 254.49 L214.62 253.97 L216.44 253.46 L218.26 252.94 L220.08 252.43 L221.90 251.91 L223.72 251.40 L225.54 250.88 L227.36 250.37 L229.18 249.86 L231.00 249.34 L232.82 248.83 L234.64 248.31 L236.46 247.80 L238.28 247.29 L240.11 246.77 L241.93 246.26 L243.75 245.75 L245.57 245.23 L247.39 244.72 L249.21 244.21 L251.03 243.70 L252.85 243.18 L254.67 242.67 L256.49 242.16 L258.31 241.65 L260.13 241.14 L261.95 240.62 L263.77 240.11 L265.59 239.60 L267.41 239.09 L269.23 238.58 L271.05 238.07 L272.87 237.55 L274.69 237.04 L276.51 236.53 L278.33 236.02 L280.15 235.51 L281.97 235.00 L283.79 234.49 L285.61 233.98 L287.43 233.47 L289.25 232.96 L291.07 232.45 L292.89 231.94 L294.71 231.43 L296.53 230.92 L298.35 230.41 L300.17 229.90 L301.99 229.39 L303.81 228.88 L305.63 228.37 L307.45 227.86 L309.27 227.35 L311.09 226.84 L312.91 226.33 L314.73 225.82 L316.55 225.31 L318.37 224.80 L320.19 224.30 L322.01 223.79 L323.83 223.28 L325.65 222.77 L327.47 222.26 L329.29 221.75 L331.11 221.24 L332.93 220.73 L334.75 220.22 L336.57 219.72 L338.39 219.21 L340.21 218.70 L342.03 218.19 L343.85 217.68 L345.67 217.17 L347.49 216.66 L349.31 216.16 L351.13 215.65 L352.95 215.14 L354.77 214.63 L356.59 214.12 L358.41 213.61 L360.23 213.11 L362.05 212.60 L363.87 212.09 L365.69 211.58 L367.51 211.07 L369.33 210.56 L371.15 210.06 L372.97 209.55 L374.79 209.04 L376.61 208.53 L378.43 208.02 L380.25 207.51 L382.07 207.00 L383.89 206.49 L385.71 205.98 L387.53 205.47 L389.35 204.96 L391.17 204.45 L392.99 203.94 L394.81 203.42 L396.63 202.91 L398.45 202.40 L400.27 201.88 L402.09 201.37 L403.91 200.86 L405.73 200.34 L407.55 199.83 L409.37 199.31 L411.19 198.80 L413.01 198.28 L414.83 197.76 L416.65 197.25 L418.47 196.73 L420.29 196.22 L422.11 195.70 L423.93 195.18 L425.75 194.67 L427.57 194.15 L429.39 193.63 L431.21 193.12 L433.03 192.60 L434.85 192.08 L436.67 191.57 L438.49 191.05 L440.31 190.53 L442.13 190.02 L443.95 189.50 L445.77 188.98 L447.59 188.47 L449.41 187.95 L451.23 187.44 L453.05 186.92 L454.87 186.40 L456.69 185.89 L458.51 185.37 L460.33 184.86 L462.15 184.34 L463.97 183.83 L465.79 183.32 L467.61 182.80 L469.43 182.29 L471.25 181.78 L473.07 181.26 L474.89 180.75 L476.71 180.24 L478.53 179.73 L480.35 179.22 L482.17 178.71 L483.99 178.20 L485.81 177.69 L487.63 177.18 L489.45 176.67 L491.27 176.16 L493.09 175.65 L494.91 175.15 L496.73 174.64 L498.55 174.13 L500.37 173.63 L502.19 173.12 L504.01 172.62 L505.83 172.12 L507.65 171.61 L509.47 171.11 L511.29 170.61 L513.12 170.11 L514.94 169.61 L516.76 169.11 L518.58 168.61 L520.40 168.11 L522.22 167.61 L524.04 167.12 L525.86 166.62 L527.68 166.13 L529.50 165.64 L531.32 165.15 L533.14 164.66 L534.96 164.17 L536.78 163.68 L538.60 163.20 L540.42 162.71 L542.24 162.23 L544.06 161.75 L545.88 161.27 L547.70 160.79 L549.52 160.31 L551.34 159.83 L553.16 159.35 L554.98 158.87 L556.80 158.40 L558.62 157.92 L560.44 157.45 L562.26 156.97 L564.08 156.50 L565.90 156.02 L567.72 155.55 L569.54 155.07 L571.36 154.60 L573.18 154.13 L575.00 153.65 L576.82 153.18 L578.64 152.70 L580.46 152.22 L582.28 151.74 L584.10 151.26 L585.92 150.78 L587.74 150.30 L589.56 149.82 L591.38 149.34 L593.20 148.86 L595.02 148.38 L596.84 147.89 L598.66 147.41 L600.48 146.93 L602.30 146.45 L604.12 145.96 L605.94 145.48 L607.76 145.00 L609.58 144.52 L611.40 144.04 L613.22 143.56 L615.04 143.07 L616.86 142.59 L618.68 142.11 L620.50 141.63 L622.32 141.15 L624.14 140.67 L625.96 140.19 L627.78 139.71 L629.60 139.23 L631.42 138.75 L633.24 138.27 L635.06 137.80 L636.88 137.32 L638.70 136.84 L640.52 136.36 L642.34 135.88 L644.16 135.40 L645.98 134.92 L647.80 134.44 L647.80 134.44 L645.98 134.94 L644.16 135.45 L642.34 135.95 L640.52 136.45 L638.70 136.95 L636.88 137.46 L635.06 137.96 L633.24 138.46 L631.42 138.96 L629.60 139.47 L627.78 139.97 L625.96 140.47 L624.14 140.97 L622.32 141.48 L620.50 141.98 L618.68 142.48 L616.86 142.98 L615.04 143.49 L613.22 143.99 L611.40 144.49 L609.58 144.99 L607.76 145.50 L605.94 146.00 L604.12 146.50 L602.30 147.00 L600.48 147.51 L598.66 148.01 L596.84 148.51 L595.02 149.01 L593.20 149.52 L591.38 150.02 L589.56 150.52 L587.74 151.02 L585.92 151.52 L584.10 152.03 L582.28 152.53 L580.46 153.03 L578.64 153.53 L576.82 154.04 L575.00 154.55 L573.18 155.06 L571.36 155.56 L569.54 156.07 L567.72 156.58 L565.90 157.09 L564.08 157.60 L562.26 158.11 L560.44 158.62 L558.62 159.13 L556.80 159.63 L554.98 160.14 L553.16 160.65 L551.34 161.16 L549.52 161.67 L547.70 162.18 L545.88 162.69 L544.06 163.20 L542.24 163.71 L540.42 164.22 L538.60 164.73 L536.78 165.24 L534.96 165.74 L533.14 166.25 L531.32 166.76 L529.50 167.27 L527.68 167.78 L525.86 168.29 L524.04 168.80 L522.22 169.31 L520.40 169.82 L518.58 170.33 L516.76 170.84 L514.94 171.35 L513.12 171.86 L511.29 172.37 L509.47 172.88 L507.65 173.39 L505.83 173.90 L504.01 174.42 L502.19 174.93 L500.37 175.44 L498.55 175.96 L496.73 176.47 L494.91 176.98 L493.09 177.50 L491.27 178.01 L489.45 178.53 L487.63 179.04 L485.81 179.55 L483.99 180.07 L482.17 180.58 L480.35 181.10 L478.53 181.62 L476.71 182.13 L474.89 182.65 L473.07 183.16 L471.25 183.68 L469.43 184.19 L467.61 184.71 L465.79 185.23 L463.97 185.74 L462.15 186.26 L460.33 186.78 L458.51 187.29 L456.69 187.81 L454.87 188.33 L453.05 188.84 L451.23 189.36 L449.41 189.87 L447.59 190.39 L445.77 190.91 L443.95 191.42 L442.13 191.94 L440.31 192.46 L438.49 192.97 L436.67 193.49 L434.85 194.01 L433.03 194.52 L431.21 195.04 L429.39 195.56 L427.57 196.07 L425.75 196.59 L423.93 197.10 L422.11 197.62 L420.29 198.14 L418.47 198.65 L416.65 199.17 L414.83 199.68 L413.01 200.20 L411.19 200.71 L409.37 201.23 L407.55 201.74 L405.73 202.25 L403.91 202.77 L402.09 203.28 L400.27 203.79 L398.45 204.31 L396.63 204.82 L394.81 205.33 L392.99 205.84 L391.17 206.36 L389.35 206.87 L387.53 207.38 L385.71 207.89 L383.89 208.40 L382.07 208.91 L380.25 209.42 L378.43 209.93 L376.61 210.44 L374.79 210.95 L372.97 211.46 L371.15 211.97 L369.33 212.48 L367.51 212.99 L365.69 213.50 L363.87 214.01 L362.05 214.51 L360.23 215.02 L358.41 215.53 L356.59 216.04 L354.77 216.55 L352.95 217.06 L351.13 217.57 L349.31 218.08 L347.49 218.59 L345.67 219.10 L343.85 219.60 L342.03 220.11 L340.21 220.62 L338.39 221.13 L336.57 221.64 L334.75 222.15 L332.93 222.65 L331.11 223.16 L329.29 223.67 L327.47 224.18 L325.65 224.69 L323.83 225.19 L322.01 225.70 L320.19 226.21 L318.37 226.72 L316.55 227.22 L314.73 227.73 L312.91 228.24 L311.09 228.75 L309.27 229.25 L307.45 229.76 L305.63 230.27 L303.81 230.77 L301.99 231.28 L300.17 231.78 L298.35 232.29 L296.53 232.80 L294.71 233.30 L292.89 233.81 L291.07 234.31 L289.25 234.82 L287.43 235.32 L285.61 235.83 L283.79 236.33 L281.97 236.84 L280.15 237.34 L278.33 237.85 L276.51 238.35 L274.69 238.86 L272.87 239.36 L271.05 239.86 L269.23 240.37 L267.41 240.87 L265.59 241.37 L263.77 241.88 L261.95 242.38 L260.13 242.88 L258.31 243.39 L256.49 243.89 L254.67 244.39 L252.85 244.89 L251.03 245.39 L249.21 245.90 L247.39 246.40 L245.57 246.90 L243.75 247.40 L241.93 247.90 L240.11 248.40 L238.28 248.90 L236.46 249.40 L234.64 249.90 L232.82 250.40 L231.00 250.90 L229.18 251.40 L227.36 251.90 L225.54 252.40 L223.72 252.90 L221.90 253.40 L220.08 253.90 L218.26 254.40 L216.44 254.90 L214.62 255.40 L212.80 255.89 L210.98 256.39 L209.16 256.89 L207.34 257.39 L205.52 257.89 L203.70 258.39 L201.88 258.89 L200.06 259.39 L198.24 259.89 L196.42 260.39 L194.60 260.89 L192.78 261.40 L190.96 261.90 L189.14 262.41 L187.32 262.91 L185.50 263.42 L183.68 263.92 L181.86 264.43 L180.04 264.93 L178.22 265.44 L176.40 265.94 L174.58 266.45 L172.76 266.95 L170.94 267.46 L169.12 267.96 L167.30 268.46 L165.48 268.97 L163.66 269.47 L161.84 269.98 L160.02 270.48 L158.20 270.98 L156.38 271.49 L154.56 271.99 L152.74 272.49 L150.92 272.99 L149.10 273.50 L147.28 274.00 L145.46 274.49 L143.64 274.99 L141.82 275.48 L140.00 275.97 L138.18 276.46 L136.36 276.95 L134.54 277.44 L132.72 277.92 L130.90 278.40 L129.08 278.89 L127.26 279.37 L125.44 279.85 L123.62 280.33 L121.80 280.80 L119.98 281.28 L118.16 281.76 L116.34 282.23 L114.52 282.71 L112.70 283.18 L110.88 283.66 L109.06 284.13 L107.24 284.61 L105.42 285.08 L103.60 285.56" stroke="#0000ff"/>
<path d="M106.90 278.41 L108.70 277.94 L110.50 277.47 L112.30 277.00 L114.09 276.54 L115.89 276.07 L117.69 275.60 L119.49 275.13 L121.29 274.67 L123.09 274.20 L124.89 273.73 L126.69 273.26 L128.48 272.79 L130.28 272.33 L132.08 271.86 L133.88 271.39 L135.68 270.92 L137.48 270.46 L139.28 269.99 L141.07 269.52 L142.87 269.05 L144.67 268.59 L146.47 268.12 L148.27 267.65 L150.07 267.18 L151.87 266.71 L153.67 266.25 L155.46 265.78 L157.26 265.31 L159.06 264.84 L160.86 264.38 L162.66 263.91 L164.46 263.44 L166.26 262.97 L168.05 262.51 L169.85 262.04 L171.65 261.57 L173.45 261.10 L175.25 260.63 L177.05 260.17 L178.85 259.70 L180.65 259.23 L182.44 258.76 L184.24 258.30 L186.04 257.83 L187.84 257.36 L189.64 256.89 L191.44 256.43 L193.24 255.96 L195.03 255.49 L196.83 255.02 L198.63 254.56 L200.43 254.09 L202.23 253.62 L204.03 253.15 L205.83 252.68 L207.63 252.22 L209.42 251.75 L211.22 251.28 L213.02 250.81 L214.82 250.35 L216.62 249.88 L218.42 249.41 L220.22 248.94 L222.01 248.48 L223.81 248.01 L225.61 247.54 L227.41 247.07 L229.21 246.60 L231.01 246.14 L232.81 245.67 L234.61 245.20 L236.40 244.73 L238.20 244.27 L240.00 243.80 L241.80 243.33 L243.60 242.86 L245.40 242.40 L247.20 241.93 L248.99 241.46 L250.79 240.99 L252.59 240.52 L254.39 240.06 L256.19 239.59 L257.99 239.12 L259.79 238.65 L261.58 238.19 L263.38 237.72 L265.18 237.25 L266.98 236.78 L268.78 236.32 L270.58 235.85 L272.38 235.38 L274.18 234.91 L275.97 234.44 L277.77 233.98 L279.57 233.51 L281.37 233.04 L283.17 232.57 L284.97 232.11 L286.77 231.64 L288.56 231.17 L290.36 230.70 L292.16 230.24 L293.96 229.77 L295.76 229.30 L297.56 228.83 L299.36 228.37 L301.16 227.90 L302.95 227.43 L304.75 226.96 L306.55 226.50 L308.35 226.03 L310.15 225.56 L311.95 225.09 L313.75 224.63 L315.54 224.16 L317.34 223.69 L319.14 223.22 L320.94 222.76 L322.74 222.29 L324.54 221.82 L326.34 221.36 L328.14 220.89 L329.93 220.42 L331.73 219.95 L333.53 219.49 L335.33 219.02 L337.13 218.55 L338.93 218.09 L340.73 217.62 L342.52 217.15 L344.32 216.69 L346.12 216.22 L347.92 215.75 L349.72 215.29 L351.52 214.82 L353.32 214.35 L355.12 213.88 L356.91 213.42 L358.71 212.95 L360.51 212.48 L362.31 212.01 L364.11 211.55 L365.91 211.08 L367.71 210.61 L369.50 210.14 L371.30 209.68 L373.10 209.21 L374.90 208.74 L376.70 208.27 L378.50 207.81 L380.30 207.34 L382.10 206.87 L383.89 206.40 L385.69 205.94 L387.49 205.47 L389.29 205.00 L391.09 204.53 L392.89 204.07 L394.69 203.60 L396.48 203.13 L398.28 202.66 L400.08 202.19 L401.88 201.73 L403.68 201.26 L405.48 200.79 L407.28 200.32 L409.08 199.86 L410.87 199.39 L412.67 198.92 L414.47 198.45 L416.27 197.99 L418.07 197.52 L419.87 197.05 L421.67 196.58 L423.46 196.12 L425.26 195.65 L427.06 195.18 L428.86 194.71 L430.66 194.24 L432.46 193.78 L434.26 193.31 L436.06 192.84 L437.85 192.37 L439.65 191.91 L441.45 191.44 L443.25 190.97 L445.05 190.50 L446.85 190.04 L448.65 189.57 L450.44 189.10 L452.24 188.63 L454.04 188.16 L455.84 187.70 L457.64 187.23 L459.44 186.76 L461.24 186.29 L463.04 185.83 L464.83 185.36 L466.63 184.89 L468.43 184.42 L470.23 183.96 L472.03 183.49 L473.83 183.02 L475.63 182.55 L477.42 182.08 L479.22 181.62 L481.02 181.15 L482.82 180.68 L484.62 180.21 L486.42 179.75 L488.22 179.28 L490.02 178.81 L491.81 178.34 L493.61 177.88 L495.41 177.41 L497.21 176.94 L499.01 176.47 L500.81 176.00 L502.61 175.54 L504.40 175.07 L506.20 174.60 L508.00 174.13 L509.80 173.67 L511.60 173.20 L513.40 172.73 L515.20 172.26 L516.99 171.80 L518.79 171.33 L520.59 170.86 L522.39 170.39 L524.19 169.92 L525.99 169.46 L527.79 168.99 L529.59 168.52 L531.38 168.05 L533.18 167.59 L534.98 167.12 L536.78 166.65 L538.58 166.18 L540.38 165.72 L542.18 165.25 L543.97 164.78 L545.77 164.31 L547.57 163.85 L549.37 163.38 L551.17 162.91 L552.97 162.44 L554.77 161.97 L556.57 161.51 L558.36 161.04 L560.16 160.57 L561.96 160.10 L563.76 159.64 L565.56 159.17 L567.36 158.70 L569.16 158.23 L570.95 157.77 L572.75 157.30 L574.55 156.83 L576.35 156.36 L578.15 155.89 L579.95 155.43 L581.75 154.96 L583.55 154.49 L585.34 154.02 L587.14 153.56 L588.94 153.09 L590.74 152.62 L592.54 152.15 L594.34 151.69 L596.14 151.22 L597.93 150.75 L599.73 150.28 L601.53 149.81 L603.33 149.35 L605.13 148.88 L606.93 148.41 L608.73 147.94 L610.53 147.48 L612.32 147.01 L614.12 146.54 L615.92 146.07 L617.72 145.61 L619.52 145.14 L621.32 144.67 L623.12 144.20 L624.91 143.73 L626.71 143.27 L628.51 142.80 L630.31 142.33 L632.11 141.86 L633.91 141.40 L635.71 140.93 L637.51 140.46 L639.30 139.99 L641.10 139.53 L642.90 139.06 L644.70 138.59" stroke="#000000"/>
</g>
<rect x="76.06" y="0.85" width="596.84" height="423.85" fill="none" stroke="#000" stroke-width="1.04"/>
<line x1="76.06" x2="76.06" y1="424.7" y2="428.9" stroke="#000" stroke-width="1.04"/>
<text x="76.06" y="444.2" text-anchor="middle">−0.4</text>
<line x1="150.67" x2="150.67" y1="424.7" y2="428.9" stroke="#000" stroke-width="1.04"/>
<text x="150.67" y="444.2" text-anchor="middle">−0.3</text>
<line x1="225.27" x2="225.27" y1="424.7" y2="428.9" stroke="#000" stroke-width="1.04"/>
<text x="225.27" y="444.2" text-anchor="middle">−0.2</text>
<line x1="299.88" x2="299.88" y1="424.7" y2="428.9" stroke="#000" stroke-width="1.04"/>
<text x="299.88" y="444.2" text-anchor="middle">−0.1</text>
<line x1="374.48" x2="374.48" y1="424.7" y2="428.9" stroke="#000" stroke-width="1.04"/>
<text x="374.48" y="444.2" text-anchor="middle">0.0</text>
<line x1="449.08" x2="449.08" y1="424.7" y2="428.9" stroke="#000" stroke-width="1.04"/>
<text x="449.08" y="444.2" text-anchor="middle">0.1</text>
<line x1="523.69" x2="523.69" y1="424.7" y2="428.9" stroke="#000" stroke-width="1.04"/>
<text x="523.69" y="444.2" text-anchor="middle">0.2</text>
<line x1="598.29" x2="598.29" y1="424.7" y2="428.9" stroke="#000" stroke-width="1.04"/>
<text x="598.29" y="444.2" text-anchor="middle">0.3</text>
<line x1="672.90" x2="672.90" y1="424.7" y2="428.9" stroke="#000" stroke-width="1.04"/>
<text x="672.90" y="444.2" text-anchor="middle">0.4</text>
<line x1="71.86" x2="76.06" y1="375.91" y2="375.91" stroke="#000" stroke-width="1.04"/>
<text x="68.76" y="382.31" text-anchor="end">−0.10</text>
<line x1="71.86" x2="76.06" y1="294.42" y2="294.42" stroke="#000" stroke-width="1.04"/>
<text x="68.76" y="300.82" text-anchor="end">−0.05</text>
<line x1="71.86" x2="76.06" y1="212.93" y2="212.93" stroke="#000" stroke-width="1.04"/>
<text x="68.76" y="219.33" text-anchor="end">0.00</text>
<line x1="71.86" x2="76.06" y1="131.44" y2="131.44" stroke="#000" stroke-width="1.04"/>
<text x="68.76" y="137.84" text-anchor="end">0.05</text>
<line x1="71.86" x2="76.06" y1="49.95" y2="49.95" stroke="#000" stroke-width="1.04"/>
<text x="68.76" y="56.35" text-anchor="end">0.10</text>
<text x="374.3" y="463.6" text-anchor="middle">Input Current <tspan font-style="italic">I</tspan> [A]</text>
<text transform="translate(13.0 212.9) rotate(-90)" text-anchor="middle">Induction Voltage <tspan font-style="italic">U</tspan><tspan font-style="italic" font-size="11.34" dy="2.6" dx="-0.5">I</tspan><tspan dy="-2.6" dx="0.5"> [V]</tspan></text>
<rect x="83.8" y="8.9" width="295.40" height="136.30" rx="2.6" fill="#fff" fill-opacity="0.8" stroke="#ccc" stroke-opacity="0.8" stroke-width="1.04"/>
<line x1="88.6" x2="120.2" y1="20.80" y2="20.80" stroke="#ff0000" stroke-width="1.7"/>
<text x="132.1" y="26.60" font-size="15.13">Ar (0.0081 wt.% N)</text>
<line x1="88.6" x2="120.2" y1="42.84" y2="42.84" stroke="#f39335" stroke-width="1.7"/>
<text x="132.1" y="48.64" font-size="15.13">Ar/N<tspan font-size="10.59" dy="2.9">2</tspan><tspan dy="-2.9"> (0.052 wt.% N)</tspan></text>
<line x1="88.6" x2="120.2" y1="64.88" y2="64.88" stroke="#e8e337" stroke-width="1.7"/>
<text x="132.1" y="70.68" font-size="15.13">N<tspan font-size="10.59" dy="2.9">2</tspan><tspan dy="-2.9"> (0.0808 wt.% N)</tspan></text>
<line x1="88.6" x2="120.2" y1="86.92" y2="86.92" stroke="#008000" stroke-width="1.7"/>
<text x="132.1" y="92.72" font-size="15.13">N<tspan font-size="10.59" dy="2.9">2</tspan><tspan dy="-2.9">/N</tspan><tspan font-size="10.59" dy="2.9">2</tspan><tspan dy="-2.9">+N</tspan><tspan font-size="10.59" dy="2.9">2</tspan><tspan dy="-2.9"> (0.0212 wt.% N)</tspan></text>
<line x1="88.6" x2="120.2" y1="108.96" y2="108.96" stroke="#0000ff" stroke-width="1.7"/>
<text x="132.1" y="114.76" font-size="15.13">N<tspan font-size="10.59" dy="2.9">2</tspan><tspan dy="-2.9">+N</tspan><tspan font-size="10.59" dy="2.9">2</tspan><tspan dy="-2.9"> (1.58 wt.% N)</tspan></text>
<line x1="88.6" x2="120.2" y1="131.00" y2="131.00" stroke="#000000" stroke-width="1.7"/>
<text x="132.1" y="136.80" font-size="15.13">Reference (no sample in set-up)</text>
</svg>
</body></html>
